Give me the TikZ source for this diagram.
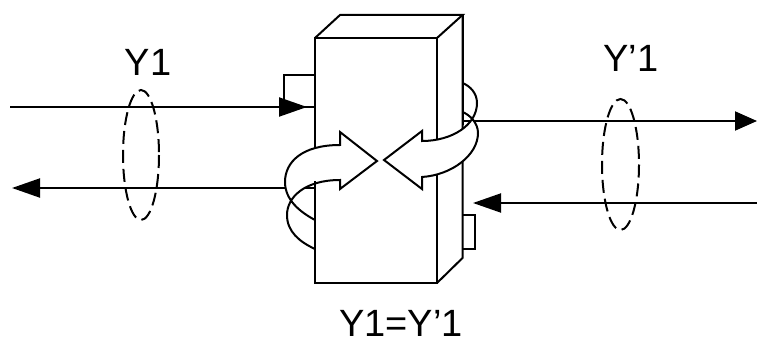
\documentclass[tikz,border=0pt]{standalone}
\usepackage{fontspec}
\setmainfont{Liberation Sans}
\usetikzlibrary{arrows.meta,calc}
\begin{document}
\begin{tikzpicture}[x=1pt,y=-1pt,line width=2pt,line join=miter,
  lbl/.style={font=\fontsize{38}{40}\selectfont,inner sep=0pt,anchor=base,text depth=0pt},
  tipL/.style={-{Triangle[length=28pt,width=19pt]}},
  dsh/.style={dash pattern=on 13pt off 6pt},
  band/.style={fill=white,even odd rule}]
\useasboundingbox (0,0) rectangle (757,345);
% box corners
\coordinate (A) at (315,38);
\coordinate (B) at (437,38);
\coordinate (C) at (437,283);
\coordinate (D) at (315,283);
\coordinate (E) at (340,15);
\coordinate (F) at (462.5,15);
\coordinate (G) at (462.5,258);
% line ends
\coordinate (inL) at (10,107);
\coordinate (inLbox) at (315,107);
\coordinate (inLtip) at (307,107);
\coordinate (outLbox) at (315,188);
\coordinate (outL) at (12,188);
\coordinate (outRbox) at (462.5,121);
\coordinate (outR) at (757,121);
\coordinate (inR) at (757,203);
\coordinate (inRtip) at (473,203);
% lines
\draw (inL) -- (inLbox);
\draw[tipL] (inL) -- (inLtip);
\draw (315,75) -- (284,75) -- (284,107);
\draw[tipL] (outLbox) -- (outL);
\draw[-{Triangle[length=22pt,width=19pt]}] (outRbox) -- (outR);
\draw[tipL] (inR) -- (inRtip);
\draw (462.5,215) -- (475,215) -- (475,249) -- (462.5,249);
% box
\draw (A) -- (B) -- (C) -- (D) -- cycle;
\draw (A) -- (E) -- (F) -- (B);
\draw (F) -- (G) -- (C);
% left curved arrow
\filldraw[band] (315,220) .. controls (300,212) and (285,200) .. (285,182)
  .. controls (285,162) and (302,145) .. (340,145) -- (340,132) -- (377,161)
  -- (340,189) -- (340,180) .. controls (305,180) and (287,197) .. (287,215)
  .. controls (287,232) and (300,242) .. (315,249);
% right curved arrow
\filldraw[band] (462.5,83) .. controls (470,86) and (477,93) .. (477,103)
  .. controls (477,125) and (452,141) .. (422,141) -- (422,131) -- (384,160)
  -- (422,189) -- (422,177) .. controls (452,175) and (478,155) .. (478,133)
  .. controls (478,123) and (470,115) .. (462.5,112);
% redraw visible edges
\draw (315,181) -- (D);
\draw (F) -- (462.5,125);
% dashed ellipses
\draw[dsh] (141,155) ellipse [x radius=18,y radius=65];
\draw[dsh] (620.5,164.5) ellipse [x radius=18.5,y radius=65.5];
% labels
\node[lbl] (y1) at (148,75) {Y1};
\node[lbl] (y1p) at (631,71) {Y’1};
\node[lbl] (eq) at (401,336) {Y1=Y’1};
\end{tikzpicture}
\end{document}
